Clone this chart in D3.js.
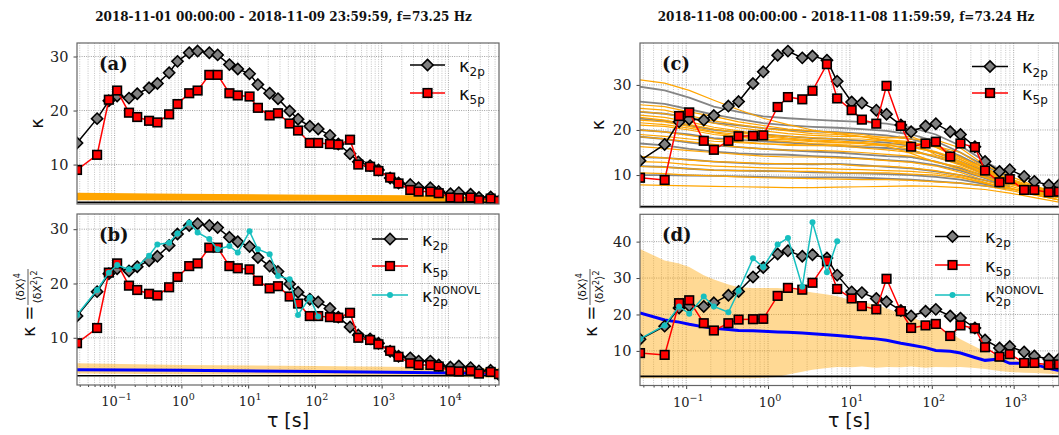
<!DOCTYPE html>
<html><head><meta charset="utf-8">
<script src="https://cdn.jsdelivr.net/npm/d3@7"></script>
<style>body{margin:0;background:#fff} svg{display:block}</style>
</head><body><svg id="c" width="1059" height="435"></svg>
<script>
// ---------------- DATA ----------------
const titleL = "2018-11-01 00:00:00 - 2018-11-09 23:59:59, f=73.25 Hz";
const titleR = "2018-11-08 00:00:00 - 2018-11-08 11:59:59, f=73.24 Hz";

const tauL = [0.0273,0.0546,0.0819,0.109,0.164,0.218,0.328,0.437,0.655,0.874,1.31,1.75,2.62,3.49,5.24,6.99,10.5,14.0,21.0,28.0,41.9,55.9,83.9,112,168,224,336,447,671,895,1342,1789,2684,3579,5368,7158,10736,14315,21473,28630,42945,57260];
const tauR = [0.0273,0.0546,0.0819,0.109,0.164,0.218,0.328,0.437,0.655,0.874,1.31,1.75,2.62,3.49,5.24,6.99,10.5,14.0,21.0,28.0,41.9,55.9,83.9,112,168,224,336,447,671,895,1342,1789,2684,3579];

const k2pA = [14.0,18.5,21.8,22.7,22.3,23.1,24.2,25.0,27.0,29.1,30.7,31.0,30.7,30.3,28.5,27.7,26.8,24.8,23.2,22.2,19.9,18.4,17.1,16.6,15.4,13.8,12.0,10.5,9.8,9.0,7.5,6.6,6.3,5.7,5.7,5.0,4.6,4.8,4.5,3.9,4.0,3.2];
const k5pA = [9.0,11.8,22.0,23.7,19.6,18.8,18.1,17.8,19.3,21.2,23.2,23.7,26.6,26.6,23.2,22.8,22.6,20.5,19.1,19.5,17.6,16.3,14.0,14.0,13.8,13.7,14.6,10.0,9.6,8.8,7.6,6.5,5.3,5.0,5.0,4.7,3.9,3.8,3.9,3.4,3.7,3.3];
const nonovlA = [14.2,18.8,22.0,23.4,22.6,23.1,25.1,27.2,27.5,29.2,31.2,29.4,28.2,26.3,26.9,25.7,29.6,26.3,25.4,21.4,20.8,14.2,17.4,13.9];

const k2pC = [13.2,16.8,21.8,22.4,22.2,23.2,25.3,26.3,30.3,32.9,36.6,37.5,36.0,36.4,35.5,30.8,26.2,26.0,24.4,23.5,21.1,19.6,20.9,21.4,19.6,19.0,16.3,13.0,10.8,11.2,9.7,8.6,7.8,7.8];
const k5pC = [9.4,8.9,23.1,23.9,17.6,15.6,17.6,18.6,18.7,18.8,25.1,27.3,26.8,28.7,34.6,27.0,24.4,22.3,21.4,29.8,20.9,16.3,17.0,17.4,14.1,17.0,16.2,11.0,8.4,9.1,6.7,6.7,6.2,6.3];
const nonovlC = [13.3,17.0,22.2,20.2,24.9,22.2,20.6,26.5,35.4,33.0,39.2,41.0,27.6,45.3,31.6,40.1];

// (a), (b) thin surrogate band / model line
const bandTauL = [0.0273,1,100,3000,57260];
const bandAUpper = [4.8,4.6,4.4,4.3,4.0];
const bandALower = [3.4,3.35,3.3,3.2,3.0];
const bandBUpper = [5.3,5.0,4.8,4.6,4.4];
const bandBLower = [3.4,3.3,3.2,3.0,2.6];
const blueB = [4.1,4.0,3.8,3.6,3.4];

// (c) surrogate curves
const tauS = [0.0273,0.0546,0.109,0.218,0.437,0.874,1.75,3.49,6.99,14.0,28.0,55.9,112,224,447,895,1789,3579];
const greyC = [
 [29.6,28.8,27.2,25.2,24.0,23.0,22.6,22.3,22.0,21.8,21.4,20.5,19.0,16.5,13.0,10.0],
 [26.3,25.8,24.6,23.4,22.4,21.5,21.0,20.7,20.5,20.2,19.8,19.0,17.5,15.0,12.0,9.5],
 [24.0,23.6,22.8,21.6,21.0,20.4,20.0,19.7,19.5,19.2,18.8,18.0,16.4,14.2,11.5,9.0],
 [22.5,22.0,21.0,20.0,19.5,19.0,18.6,18.2,18.0,17.6,17.2,16.5,15.0,13.0,10.8,8.5],
 [20.0,19.6,19.0,18.2,17.8,17.5,17.2,16.8,16.5,16.2,16.0,15.5,14.0,12.5,10.2,8.0],
 [18.5,18.0,17.2,16.6,16.2,15.8,15.5,15.2,15.0,14.6,14.2,14.0,13.0,11.5,9.8,8.0],
 [17.0,16.6,15.8,15.2,14.8,14.6,14.5,14.2,14.0,13.7,13.3,13.0,12.2,11.0,9.3,7.5],
 [14.0,13.8,13.4,13.0,12.7,12.5,12.5,12.4,12.5,12.2,11.8,11.5,10.8,10.0,8.8,7.5],
 [12.0,11.8,11.4,11.1,11.0,10.9,10.8,10.6,10.5,10.4,10.2,10.0,9.6,9.0,8.0,7.0],
 [10.0,10.0,9.9,9.8,9.7,9.6,9.5,9.5,9.5,9.4,9.2,9.0,8.6,8.2,7.6,7.0]
];
const orangeC = [
 [31.1,30.4,28.8,26.6,24.5,22.6,21.2,20.0,19.2,18.6,17.8,17.4,14.5,12.8,10.2,8.6,7.2,6.4],
 [25.6,25.2,24.0,23.0,21.8,21.0,20.2,19.8,19.4,19.0,18.2,18.6,16.2,13.5,11.0,9.2,7.4,6.0],
 [24.8,24.4,23.2,22.0,21.2,20.4,19.8,19.2,19.0,18.5,17.6,17.0,16.6,13.8,11.6,9.0,7.0,6.5],
 [24.1,23.6,22.6,21.5,20.5,19.8,19.2,18.8,18.6,18.5,18.4,18.0,17.8,16.0,12.2,9.8,7.6,6.0],
 [23.3,22.8,21.8,20.6,19.8,19.0,18.6,18.3,18.0,18.0,17.6,17.2,16.4,15.0,11.6,8.6,6.8,5.5],
 [22.8,22.2,21.2,20.2,19.4,18.8,18.2,17.8,17.6,17.2,16.8,15.6,14.0,12.2,10.0,8.4,6.6,5.2],
 [22.2,21.8,20.8,19.6,19.0,18.5,18.0,17.6,17.3,17.0,16.6,16.2,15.0,13.0,10.6,8.8,7.0,6.0],
 [21.6,21.2,20.4,19.4,18.6,18.0,17.8,17.4,17.2,17.3,17.8,16.4,15.2,13.4,11.0,9.0,7.2,5.8],
 [21.1,20.8,20.0,19.0,18.4,17.8,17.4,17.0,16.8,17.0,16.4,14.8,12.8,11.8,9.6,8.0,6.4,5.0],
 [20.0,19.6,18.8,18.0,17.4,17.0,16.6,16.5,16.5,16.0,15.6,15.0,14.4,12.6,10.4,8.0,6.6,5.5],
 [19.0,18.6,18.0,17.5,17.2,16.9,16.8,16.6,16.5,16.5,16.8,17.2,16.2,14.0,11.0,8.2,6.8,5.5],
 [18.5,18.0,17.4,16.8,16.2,15.8,15.5,15.5,15.3,15.0,14.6,14.2,13.0,11.2,9.4,7.6,6.0,5.0],
 [16.3,15.9,15.4,15.0,14.6,14.2,14.0,14.0,13.8,13.6,13.2,12.8,12.0,10.6,8.8,7.2,5.6,4.5],
 [14.1,13.8,13.3,13.0,12.8,12.6,12.5,12.5,12.4,12.0,12.0,11.6,11.0,10.0,8.4,7.0,5.8,4.5],
 [13.0,12.8,12.3,12.0,11.8,11.6,11.5,11.5,11.3,11.2,11.0,10.8,10.4,9.6,8.2,7.0,6.0,5.0],
 [11.9,11.7,11.4,11.1,11.0,10.9,10.8,10.8,10.6,10.5,10.5,10.2,10.0,9.4,8.2,7.0,6.2,5.0],
 [10.5,10.3,10.0,9.8,9.6,9.4,9.3,9.2,9.1,9.0,9.0,8.8,8.5,8.2,7.6,6.6,5.6,4.5],
 [7.8,7.7,7.6,7.5,7.4,7.3,7.2,7.2,7.3,7.4,7.5,7.6,7.5,7.2,6.8,6.0,5.0,4.0]
];

// (d) surrogate spread and model line, on tauR
const bandDUpper = [38.0,34.8,34.0,33.0,30.8,29.6,28.2,27.5,27.3,27.3,27.3,27.0,26.5,26.0,25.5,25.0,23.9,23.4,22.6,21.7,20.3,19.4,17.6,16.2,14.9,13.2,11.2,9.8,8.5,7.7,7.1,6.6,6.0,5.7];
const bandDLower = [2.5,2.5,2.5,2.5,2.5,2.5,2.5,2.5,2.5,2.6,2.8,3.5,4.3,4.8,5.3,5.6,5.5,5.7,5.4,5.6,5.5,5.7,5.4,5.6,5.5,5.6,5.3,5.0,4.5,4.2,4.0,3.9,3.7,3.6];
const blueD = [20.4,18.5,17.9,17.3,16.6,16.2,15.9,15.6,15.5,15.4,15.2,15.1,14.9,14.7,14.4,14.2,13.9,13.6,13.3,12.9,12.1,11.6,10.9,10.1,9.9,9.4,8.2,7.4,7.8,6.6,6.6,6.3,5.2,4.6];

const gaussK = 3;
const yTicksA = [10,20,30], yTicksB = [10,20,30], yTicksC = [10,20,30], yTicksD = [10,20,30,40];
const xExpL = [-1,0,1,2,3,4], xExpR = [-1,0,1,2,3];

// ---------------- DRAW ----------------
const svg = d3.select('#c');
const SERIF = "'DejaVu Serif', serif", SANS = "'DejaVu Sans', sans-serif";
const ORANGE = '#FFA500', CYAN = '#17BFBF';

function panel(o){
  const x = d3.scaleLog().domain(o.xd).range([o.x0,o.x1]);
  const y = d3.scaleLinear().domain(o.yd).range([o.y1,o.y0]);
  const g = svg.append('g');
  const id = 'clip_' + o.name;
  svg.append('clipPath').attr('id',id).append('rect')
    .attr('x',o.x0).attr('y',o.y0).attr('width',o.x1-o.x0).attr('height',o.y1-o.y0);
  const vt = [];
  for (let e=-2;e<=5;e++) for (let m=1;m<=9;m++){ const v=m*Math.pow(10,e); if (v>o.xd[0] && v<o.xd[1]) vt.push({v, major:m===1}); }
  g.append('g').selectAll('line').data(vt).join('line')
    .attr('x1',d=>x(d.v)).attr('x2',d=>x(d.v)).attr('y1',o.y0).attr('y2',o.y1)
    .attr('stroke',d=>d.major?'#8a8a8a':'#b5b5b5').attr('stroke-width',0.8).attr('stroke-dasharray','1,1.3');
  g.append('g').selectAll('line').data(o.yTicks).join('line')
    .attr('x1',o.x0).attr('x2',o.x1).attr('y1',d=>y(d)).attr('y2',d=>y(d))
    .attr('stroke','#8a8a8a').attr('stroke-width',0.8).attr('stroke-dasharray','1,1.3');
  const body = g.append('g').attr('clip-path',`url(#${id})`);
  const ya = g.append('g').attr('transform',`translate(${o.x0},0)`)
    .call(d3.axisLeft(y).tickValues(o.yTicks).tickSize(3.5).tickPadding(5).tickFormat(d3.format('d')));
  ya.select('.domain').remove();
  ya.selectAll('line').attr('stroke','#444');
  ya.selectAll('text').attr('font-family',SERIF).attr('font-size',14.5).attr('fill','#222');
  if (o.xExp){
    const xa = g.append('g').attr('transform',`translate(0,${o.y1})`)
      .call(d3.axisBottom(x).tickValues(o.xExp.map(e=>Math.pow(10,e))).tickSize(3.5).tickFormat(()=>''));
    xa.select('.domain').remove(); xa.selectAll('line').attr('stroke','#444');
    const xm = g.append('g').attr('transform',`translate(0,${o.y1})`)
      .call(d3.axisBottom(x).tickValues(vt.filter(d=>!d.major).map(d=>d.v)).tickSize(2).tickFormat(()=>''));
    xm.select('.domain').remove(); xm.selectAll('line').attr('stroke','#444');
    const lab = g.append('g').selectAll('text').data(o.xExp).join('text')
      .attr('x',d=>x(Math.pow(10,d))+2).attr('y',o.y1+21).attr('text-anchor','middle')
      .attr('font-family',SERIF).attr('font-size',13).attr('fill','#222');
    lab.append('tspan').text('10');
    lab.append('tspan').attr('dy',-6).attr('font-size',9.5).text(d=>String(d).replace('-','\u2212'));
  }
  g.append('rect').attr('x',o.x0).attr('y',o.y0).attr('width',o.x1-o.x0).attr('height',o.y1-o.y0)
    .attr('fill','none').attr('stroke','#666').attr('stroke-width',1.2);
  g.append('text').attr('x',o.x0+22).attr('y',o.y0+27).attr('font-family',SERIF).attr('font-weight','bold')
    .attr('font-size',18).attr('fill','#111').text(o.letter);
  return {x,y,g,body};
}

function diamond(sel){ return sel.append('path').attr('d','M0,-5.6L5.6,0L0,5.6L-5.6,0Z').attr('fill','#808080').attr('stroke','#000').attr('stroke-width',1.6); }
function square(sel){ return sel.append('rect').attr('x',-4.3).attr('y',-4.3).attr('width',8.6).attr('height',8.6).attr('fill','#ff0000').attr('stroke','#000').attr('stroke-width',1.6); }

function series(P, tau, vals, kind){
  const pts = vals.map((v,i)=>[tau[i],v]);
  const line = d3.line().x(d=>P.x(d[0])).y(d=>P.y(d[1]));
  const col = kind==='k2p' ? '#000' : kind==='k5p' ? '#ff0000' : CYAN;
  P.body.append('path').attr('d',line(pts)).attr('fill','none').attr('stroke',col).attr('stroke-width',1.5);
  const m = P.body.append('g').selectAll('g').data(pts).join('g').attr('transform',d=>`translate(${P.x(d[0])},${P.y(d[1])})`);
  if (kind==='k2p') diamond(m); else if (kind==='k5p') square(m);
  else m.append('circle').attr('r',3).attr('fill',CYAN);
}
function hline(P, v){
  P.body.append('line').attr('x1',P.x.range()[0]).attr('x2',P.x.range()[1]).attr('y1',P.y(v)).attr('y2',P.y(v))
    .attr('stroke','#000').attr('stroke-width',1.6);
}
function band(P, tau, lo, hi, fill){
  const area = d3.area().x((d,i)=>P.x(tau[i])).y0((d,i)=>P.y(lo[i])).y1((d,i)=>P.y(hi[i]));
  P.body.append('path').attr('d',area(tau)).attr('fill',fill).attr('stroke','none');
}
function curve(P, tau, vals, col, w){
  const line = d3.line().x((d,i)=>P.x(tau[i])).y(d=>P.y(d));
  P.body.append('path').attr('d',line(vals)).attr('fill','none').attr('stroke',col).attr('stroke-width',w);
}
function legend(P, x0, x1, tx, rows){
  const g = P.g.append('g');
  rows.forEach(r=>{
    const col = r.kind==='k2p' ? '#000' : r.kind==='k5p' ? '#ff0000' : CYAN;
    g.append('line').attr('x1',x0).attr('x2',x1).attr('y1',r.y).attr('y2',r.y).attr('stroke',col).attr('stroke-width',1.5);
    const m = g.append('g').attr('transform',`translate(${(x0+x1)/2},${r.y})`);
    if (r.kind==='k2p') diamond(m); else if (r.kind==='k5p') square(m); else m.append('circle').attr('r',3).attr('fill',CYAN);
    const t = g.append('text').attr('x',tx).attr('y',r.y+6.5).attr('font-family',SANS).attr('font-size',18).attr('fill','#111');
    t.append('tspan').text('\u03ba');
    t.append('tspan').attr('dy',4).attr('font-size',12).text(r.sub);
    if (r.sup){
      g.append('text').attr('x',tx+11).attr('y',r.y-1.5).attr('font-family',SANS).attr('font-size',11).attr('fill','#111').text(r.sup);
    }
  });
}
function fracLabel(cx, cy){
  const g = svg.append('g').attr('transform',`translate(${cx},${cy}) rotate(-90)`).attr('font-family',SANS).attr('fill','#111');
  g.append('text').attr('x',-37).attr('y',6.5).attr('font-size',18).text('\u03ba =');
  const n = g.append('text').attr('x',13).attr('y',-4).attr('text-anchor','middle').attr('font-size',11);
  n.append('tspan').text('\u27e8\u03b4X\u27e9'); n.append('tspan').attr('dy',-4).attr('font-size',8).text('4');
  g.append('line').attr('x1',-5).attr('x2',31).attr('y1',0).attr('y2',0).attr('stroke','#111').attr('stroke-width',0.7);
  const d = g.append('text').attr('x',13).attr('y',13).attr('text-anchor','middle').attr('font-size',11);
  d.append('tspan').text('\u27e8\u03b4X'); d.append('tspan').attr('dy',-4).attr('font-size',8).text('2');
  d.append('tspan').attr('dy',4).text('\u27e9'); d.append('tspan').attr('dy',-4).attr('font-size',8).text('2');
}

const xdL = [tauL[0], tauL[tauL.length-1]];
const xdR = [tauR[0], tauR[tauR.length-1]];

const A = panel({name:'a',x0:77,x1:499,y0:43,y1:204,xd:xdL,yd:[2.7,32.5],yTicks:yTicksA,letter:'(a)'});
band(A, bandTauL, bandALower, bandAUpper, ORANGE);
hline(A, gaussK);
series(A, tauL, k2pA, 'k2p');
series(A, tauL, k5pA, 'k5p');
legend(A, 410, 445, 459, [{y:65,kind:'k2p',sub:'2p'},{y:93,kind:'k5p',sub:'5p'}]);

const B = panel({name:'b',x0:77,x1:499,y0:214,y1:385,xd:xdL,yd:[1.3,32.8],yTicks:yTicksB,letter:'(b)',xExp:xExpL});
band(B, bandTauL, bandBLower, bandBUpper, 'rgba(255,165,0,0.45)');
hline(B, gaussK);
curve(B, bandTauL, blueB, '#0000ff', 3);
series(B, tauL, k2pA, 'k2p');
series(B, tauL, k5pA, 'k5p');
series(B, tauL, nonovlA, 'non');
legend(B, 372, 408, 422, [{y:239,kind:'k2p',sub:'2p'},{y:266,kind:'k5p',sub:'5p'},{y:295,kind:'non',sub:'2p',sup:'NONOVL'}]);

const C = panel({name:'c',x0:640,x1:1059,y0:43,y1:207.5,xd:xdR,yd:[2.8,39.3],yTicks:yTicksC,letter:'(c)'});
greyC.forEach(v=>curve(C, tauS, v, '#858585', 1.8));
orangeC.forEach(v=>curve(C, tauS, v, ORANGE, 1.2));
hline(C, gaussK);
series(C, tauR, k2pC, 'k2p');
series(C, tauR, k5pC, 'k5p');
legend(C, 972, 1008, 1022, [{y:66.5,kind:'k2p',sub:'2p'},{y:93,kind:'k5p',sub:'5p'}]);

const D = panel({name:'d',x0:640,x1:1059,y0:214.3,y1:385.5,xd:xdR,yd:[0.5,47.5],yTicks:yTicksD,letter:'(d)',xExp:xExpR});
band(D, tauR, bandDLower, bandDUpper, 'rgba(255,165,0,0.42)');
hline(D, gaussK);
curve(D, tauR, blueD, '#0000ff', 3);
series(D, tauR, k2pC, 'k2p');
series(D, tauR, k5pC, 'k5p');
series(D, tauR, nonovlC, 'non');
legend(D, 935, 970, 985, [{y:236.5,kind:'k2p',sub:'2p'},{y:265,kind:'k5p',sub:'5p'},{y:295,kind:'non',sub:'2p',sup:'NONOVL'}]);

svg.append('text').attr('x',283.5).attr('y',21).attr('text-anchor','middle').attr('font-family',SERIF)
  .attr('font-weight','bold').attr('font-size',12).attr('fill','#111').text(titleL);
svg.append('text').attr('x',846).attr('y',21).attr('text-anchor','middle').attr('font-family',SERIF)
  .attr('font-weight','bold').attr('font-size',12).attr('fill','#111').text(titleR);

[[37,123.5],[598,125]].forEach(([cx,cy])=>{
  svg.append('text').attr('transform',`translate(${cx+6},${cy}) rotate(-90)`).attr('text-anchor','middle')
    .attr('font-family',SANS).attr('font-size',18).attr('fill','#111').text('\u03ba');
});
fracLabel(28, 300);
fracLabel(590, 300);

[288, 849].forEach(cx=>{
  svg.append('text').attr('x',cx).attr('y',427).attr('text-anchor','middle').attr('font-family',SANS)
    .attr('font-size',19).attr('fill','#111').text('\u03c4 [s]');
});
</script></body></html>
